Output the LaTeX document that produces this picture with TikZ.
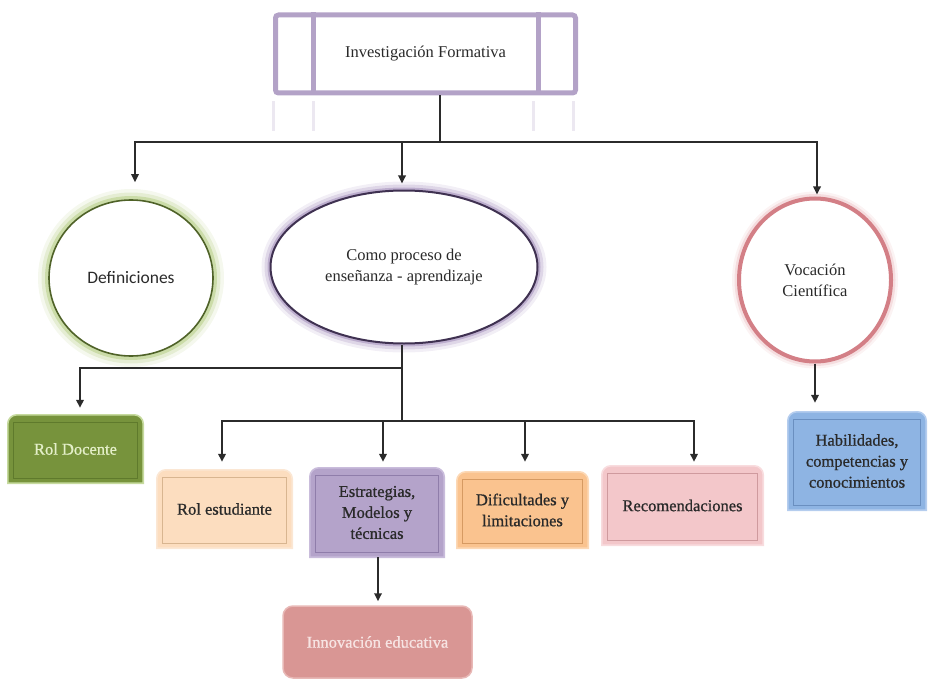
\documentclass[tikz,border=0pt]{standalone}
\usepackage{fontspec}
\setmainfont{Liberation Serif}
\newfontfamily\calfont{Carlito}
\newfontfamily\heavyfont[FakeBold=0.9]{Liberation Serif}
\usetikzlibrary{shapes.geometric,arrows.meta}
\pgfdeclarelayer{bg}
\pgfsetlayers{bg,main}
\definecolor{lav}{HTML}{B3A2C7}
\definecolor{ink}{HTML}{2A2A2A}
\definecolor{lineC}{HTML}{2B2B2B}
\definecolor{greenD}{HTML}{4F6228}
\definecolor{greenG}{HTML}{9BBB59}
\definecolor{purD}{HTML}{3F3151}
\definecolor{purG}{HTML}{8064A2}
\definecolor{redD}{HTML}{D37F86}
\definecolor{redG}{HTML}{E29BA0}
\definecolor{olive}{HTML}{77933C}
\definecolor{oliveF}{HTML}{5F7A2C}
\definecolor{oliveR}{HTML}{C6DA9E}
\definecolor{oliveT}{HTML}{E4EFC9}
\definecolor{peach}{HTML}{FCDDBF}
\definecolor{peachF}{HTML}{D8B590}
\definecolor{peachR}{HTML}{FBE7D4}
\definecolor{lilac}{HTML}{B4A3CA}
\definecolor{lilacF}{HTML}{8F7DAA}
\definecolor{lilacR}{HTML}{C9BCDB}
\definecolor{orangeL}{HTML}{FAC38F}
\definecolor{orangeF}{HTML}{D69A62}
\definecolor{orangeR}{HTML}{FCD8B5}
\definecolor{pinkL}{HTML}{F3C7CA}
\definecolor{pinkF}{HTML}{CF9A9E}
\definecolor{pinkR}{HTML}{F8DCDE}
\definecolor{blueL}{HTML}{8EB4E3}
\definecolor{blueF}{HTML}{6A8FC0}
\definecolor{blueR}{HTML}{B5CDEE}
\definecolor{rose}{HTML}{D99694}
\definecolor{roseR}{HTML}{E8B8B6}
\definecolor{roseT}{HTML}{F7E4E3}
\newcommand\mybox[5]{%
 \begin{pgfonlayer}{bg}
 \filldraw[fill=#2, draw=#4, line width=1.6pt] (#1.south west) -- ([yshift=-#5]#1.north west) arc[start angle=180,end angle=90,radius=#5] -- ([xshift=-#5]#1.north east) arc[start angle=90,end angle=0,radius=#5] -- (#1.south east) -- cycle;
 \draw[#3, line width=0.9pt] ([xshift=6pt,yshift=-8pt]#1.north west) rectangle ([xshift=-6pt,yshift=5pt]#1.south east);
 \end{pgfonlayer}}
\tikzset{
 txt/.style={font=\fontsize{16.5}{21}\selectfont, text=ink, align=center, inner sep=0pt},
 boxn/.style={txt, font=\heavyfont\fontsize{16.5}{21}\selectfont, minimum width=#1},
 ln/.style={draw=lineC, line width=1.7pt},
 arr/.style={ln, -{Triangle[length=8pt,width=7.5pt]}},
 glowG/.style={preaction={draw=greenG, line width=22pt, opacity=0.10},
   preaction={draw=greenG, line width=15pt, opacity=0.18},
   preaction={draw=greenG, line width=8pt, opacity=0.35}},
 glowP/.style={preaction={draw=purG, line width=18pt, opacity=0.10},
   preaction={draw=purG, line width=12pt, opacity=0.18},
   preaction={draw=purG, line width=6pt, opacity=0.35}},
 glowR/.style={preaction={draw=redG, line width=14pt, opacity=0.12},
   preaction={draw=redG, line width=9pt, opacity=0.25}},
}
\begin{document}
\begin{tikzpicture}[x=1pt,y=-1pt]
\useasboundingbox (0,0) rectangle (928,679);
% top box
\node[txt, draw=lav, fill=white, line width=5pt, rounded corners=3pt, minimum width=300pt, minimum height=78pt] (top) at (425.5,54) {Investigación Formativa};
\draw[lav, line width=5pt] ([xshift=40pt]top.north west) -- ([xshift=40pt]top.south west);
\draw[lav, line width=5pt] ([xshift=-40pt]top.north east) -- ([xshift=-40pt]top.south east);
% faint reflection
\foreach \xx in {0,40,260,300}
  \draw[lav!25, line width=3pt] ([xshift=\xx pt,yshift=-6pt]top.south west) -- ([xshift=\xx pt,yshift=-36pt]top.south west);
% circles
\node[txt, shape=ellipse, glowG, draw=greenD, line width=1.6pt, fill=white, minimum width=164pt, minimum height=156pt] (def) at (131,278) {\calfont\fontsize{17.5}{21}\selectfont Definiciones};
\node[txt, shape=ellipse, glowP, draw=purD, line width=2pt, fill=white, minimum width=267pt, minimum height=153pt] (proc) at (404,267) {Como proceso de\\enseñanza - aprendizaje};
\node[txt, shape=ellipse, glowR, draw=redD, line width=4pt, fill=white, minimum width=152pt, minimum height=163pt] (voc) at (815,280) {Vocación\\Científica};
% boxes
\node[boxn=135pt, minimum height=68pt, text=oliveT] (doc) at (75.5,449) {Rol Docente};
\mybox{doc}{olive}{oliveF}{oliveR}{9pt}
\node[boxn=135pt, minimum height=78pt] (est) at (224.5,509) {Rol estudiante};
\mybox{est}{peach}{peachF}{peachR}{9pt}
\node[boxn=134pt, minimum height=89pt] (estr) at (377,512.5) {Estrategias,\\Modelos y\\técnicas};
\mybox{estr}{lilac}{lilacF}{lilacR}{9pt}
\node[boxn=131pt, minimum height=76pt] (dif) at (522.5,510) {Dificultades y\\limitaciones};
\mybox{dif}{orangeL}{orangeF}{orangeR}{9pt}
\node[boxn=161pt, minimum height=79pt] (rec) at (682.5,505.5) {Recomendaciones};
\mybox{rec}{pinkL}{pinkF}{pinkR}{9pt}
\node[boxn=138pt, minimum height=98pt] (hab) at (857,461) {Habilidades,\\competencias y\\conocimientos};
\mybox{hab}{blueL}{blueF}{blueR}{9pt}
\node[boxn=189pt, minimum height=72pt, text=roseT, fill=rose, draw=roseR, line width=1.5pt, rounded corners=10pt] (inno) at (377.5,642) {Innovación educativa};
% connector points
\coordinate (j0) at (440,142);
\coordinate (j1) at (402,368);
\coordinate (j2) at (402,421);
\coordinate (tDef) at ([xshift=4pt,yshift=17pt]def.north);
\coordinate (tProc) at ([xshift=-2pt,yshift=6pt]proc.north);
\coordinate (tVoc) at ([xshift=2pt,yshift=2pt]voc.north);
\coordinate (tDoc) at ([xshift=4.5pt,yshift=7pt]doc.north);
\coordinate (tEst) at ([xshift=-2.5pt,yshift=8pt]est.north);
\coordinate (tEstr) at ([xshift=6pt,yshift=6pt]estr.north);
\coordinate (tDif) at ([xshift=2.5pt,yshift=10pt]dif.north);
\coordinate (tRec) at ([xshift=11.5pt,yshift=4pt]rec.north);
\coordinate (tHab) at ([yshift=9pt]hab.north -| voc.south);
\coordinate (tInn) at ([xshift=0.5pt,yshift=4pt]inno.north);
% connectors
\draw[ln] (j0 |- top.south) -- (j0);
\draw[arr] (j0) -| (tDef);
\draw[arr] (j0) -| (tProc);
\draw[arr] (j0) -| (tVoc);
\draw[ln] (j1 |- proc.south) -- (j2);
\draw[arr] (j1) -| (tDoc);
\draw[arr] (j2) -| (tEst);
\draw[arr] (j2) -| (tEstr);
\draw[arr] (j2) -| (tDif);
\draw[arr] (j2) -| (tRec);
\draw[arr] (voc.south) -- (tHab);
\draw[arr] (tInn |- estr.south) -- (tInn);
\end{tikzpicture}
\end{document}
